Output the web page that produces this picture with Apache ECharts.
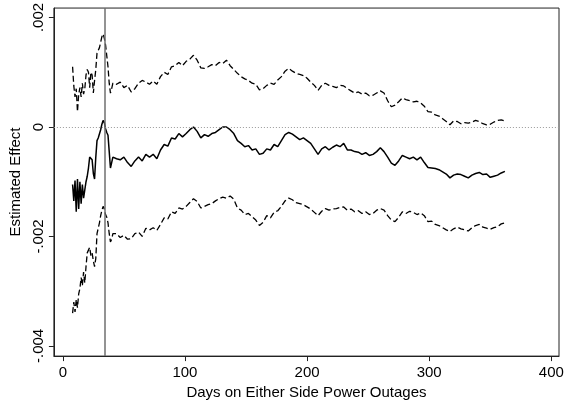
<!DOCTYPE html>
<html>
<head>
<meta charset="utf-8">
<script src="https://cdn.jsdelivr.net/npm/echarts@6/dist/echarts.min.js"></script>
<style>html,body{margin:0;padding:0;background:#fff}#c{width:568px;height:405px}</style>
</head>
<body>
<div id="c"></div>
<script>
// Days on either side of power outages
const days = [
  8,9,10,11,12,13,14,15,16,17,18,19,20,21,22,23,24,25,26,27,28,29,30,31,32,33,34,35,36,37,38,39,40,41,
  44,47,50,53,56,59,62,65,68,71,
  74,77,80,83,86,89,92,95,98,101,
  104,107,110,113,116,119,122,125,128,131,
  134,137,140,143,146,149,152,155,158,161,
  164,167,170,173,176,179,182,185,188,191,
  194,197,200,203,206,209,212,215,218,221,
  224,227,230,233,236,239,242,245,248,251,
  254,257,260,263,266,269,272,275,278,281,
  284,287,290,293,296,299,302,305,308,311,
  314,317,320,323,326,329,332,335,338,341,
  344,347,350,353,356,359,362
];
// Values in thousandths (x 0.001)
const estimate = [
  -1.05,-1.35,-0.98,-1.55,-0.95,-1.50,-1.00,-1.40,-1.05,-1.30,-1.15,-1.00,-0.90,-0.75,-0.55,-0.55,-0.60,-0.85,-0.95,-0.55,-0.25,-0.20,-0.18,-0.05,0.05,0.12,0.08,-0.03,-0.10,-0.15,-0.45,-0.75,-0.65,-0.55,
  -0.58,-0.60,-0.55,-0.65,-0.72,-0.62,-0.55,-0.62,-0.50,-0.55,
  -0.50,-0.58,-0.42,-0.32,-0.35,-0.20,-0.22,-0.12,-0.18,-0.12,
  -0.05,0.00,-0.08,-0.20,-0.14,-0.17,-0.12,-0.10,-0.05,0.00,
  0.00,-0.05,-0.12,-0.25,-0.30,-0.36,-0.34,-0.42,-0.40,-0.50,
  -0.48,-0.40,-0.42,-0.32,-0.36,-0.25,-0.14,-0.10,-0.13,-0.18,
  -0.23,-0.20,-0.25,-0.30,-0.40,-0.50,-0.40,-0.36,-0.42,-0.37,
  -0.33,-0.36,-0.30,-0.42,-0.42,-0.45,-0.46,-0.50,-0.47,-0.52,
  -0.50,-0.45,-0.38,-0.45,-0.55,-0.66,-0.70,-0.62,-0.52,-0.55,
  -0.58,-0.55,-0.60,-0.55,-0.65,-0.74,-0.75,-0.76,-0.78,-0.82,
  -0.86,-0.93,-0.88,-0.86,-0.87,-0.90,-0.93,-0.88,-0.85,-0.83,
  -0.87,-0.86,-0.92,-0.90,-0.88,-0.84,-0.81
];
const upper = [
  1.10,0.75,0.55,0.70,0.28,0.60,0.72,0.55,0.80,0.60,0.70,0.95,1.05,1.00,0.72,1.00,0.95,0.62,0.85,1.05,1.35,1.40,1.45,1.55,1.65,1.70,1.62,1.50,1.30,1.10,0.80,0.62,0.70,0.80,
  0.78,0.82,0.72,0.76,0.64,0.70,0.80,0.85,0.82,0.78,
  0.84,0.78,0.92,1.00,0.96,1.10,1.12,1.18,1.12,1.20,
  1.24,1.31,1.22,1.08,1.07,1.10,1.14,1.12,1.18,1.16,
  1.22,1.12,1.05,0.98,0.92,0.88,0.85,0.80,0.78,0.68,
  0.70,0.76,0.80,0.78,0.86,0.92,1.02,1.07,1.02,0.98,
  0.96,0.94,0.89,0.82,0.76,0.67,0.76,0.80,0.76,0.74,
  0.72,0.76,0.75,0.70,0.66,0.62,0.64,0.60,0.62,0.57,
  0.58,0.62,0.66,0.62,0.48,0.37,0.40,0.46,0.53,0.50,
  0.48,0.46,0.47,0.44,0.38,0.28,0.27,0.22,0.20,0.15,
  0.10,0.04,0.11,0.10,0.06,0.08,0.07,0.09,0.12,0.10,
  0.06,0.04,0.05,0.09,0.12,0.13,0.11
];
const lower = [
  -3.40,-3.20,-3.38,-3.15,-3.30,-3.05,-2.95,-2.75,-2.90,-2.65,-2.85,-2.55,-2.30,-2.25,-2.20,-2.35,-2.30,-2.45,-2.55,-2.40,-1.95,-1.85,-1.75,-1.62,-1.52,-1.45,-1.50,-1.60,-1.65,-1.75,-1.95,-2.10,-2.05,-1.95,
  -1.95,-2.02,-1.98,-2.05,-2.04,-1.95,-1.92,-2.00,-1.85,-1.88,
  -1.84,-1.89,-1.78,-1.66,-1.68,-1.55,-1.58,-1.48,-1.50,-1.45,
  -1.38,-1.31,-1.36,-1.48,-1.45,-1.42,-1.40,-1.35,-1.31,-1.28,
  -1.30,-1.26,-1.32,-1.48,-1.52,-1.60,-1.58,-1.64,-1.70,-1.80,
  -1.74,-1.62,-1.66,-1.56,-1.53,-1.45,-1.35,-1.30,-1.33,-1.38,
  -1.40,-1.42,-1.46,-1.50,-1.56,-1.62,-1.54,-1.49,-1.52,-1.50,
  -1.49,-1.47,-1.46,-1.52,-1.50,-1.55,-1.53,-1.58,-1.55,-1.60,
  -1.58,-1.52,-1.49,-1.52,-1.62,-1.70,-1.73,-1.65,-1.55,-1.58,
  -1.54,-1.56,-1.60,-1.57,-1.62,-1.73,-1.72,-1.78,-1.80,-1.84,
  -1.88,-1.91,-1.86,-1.83,-1.86,-1.88,-1.90,-1.84,-1.80,-1.78,
  -1.83,-1.85,-1.87,-1.84,-1.82,-1.77,-1.75
];
const xTicks = [0, 100, 200, 300, 400];
const yTicks = [-4, -2, 0, 2];           // thousandths
const yTickLabels = ['-.004', '-.002', '0', '.002'];
const outageDay = 34;

const pair = arr => days.map((d, i) => [d, arr[i]]);
const font = 'Liberation Sans, Arial, sans-serif';

const chart = echarts.init(document.getElementById('c'), null, {renderer: 'canvas'});
chart.setOption({
  animation: false,
  backgroundColor: '#fff',
  grid: {left: 49, top: 7, right: 9, bottom: 46, show: true, borderColor: '#222', borderWidth: 1, containLabel: false},
  xAxis: {
    type: 'value', min: -7.3, max: 406.3,
    name: 'Days on Either Side Power Outages', nameLocation: 'middle', nameGap: 24,
    nameTextStyle: {fontFamily: font, fontSize: 15, color: '#000'},
    axisLine: {show: true, onZero: false, lineStyle: {color: '#222', width: 1}},
    axisTick: {show: true, length: 5, customValues: xTicks, lineStyle: {color: '#222'}},
    axisLabel: {customValues: xTicks, fontFamily: font, fontSize: 15, color: '#000', margin: 9},
    splitLine: {show: false}
  },
  yAxis: {
    type: 'value', min: -4.186, max: 2.173,
    name: 'Estimated Effect', nameLocation: 'middle', nameGap: 22,
    nameTextStyle: {fontFamily: font, fontSize: 15, color: '#000'},
    axisLine: {show: true, onZero: false, lineStyle: {color: '#222', width: 1}},
    axisTick: {show: true, length: 5, customValues: yTicks, lineStyle: {color: '#222'}},
    axisLabel: {
      customValues: yTicks, rotate: 90, fontFamily: font, fontSize: 15, color: '#000', margin: 8,
      align: 'center',
      formatter: v => { const i = yTicks.indexOf(Math.round(v)); return i >= 0 ? yTickLabels[i] : ''; }
    },
    splitLine: {show: false}
  },
  series: [
    {
      type: 'line', data: pair(upper), showSymbol: false, silent: true,
      lineStyle: {color: '#000', width: 1.3, type: [6, 3]}
    },
    {
      type: 'line', data: pair(estimate), showSymbol: false, silent: true,
      lineStyle: {color: '#000', width: 1.5},
      markLine: {
        silent: true, symbol: 'none', label: {show: false},
        data: [
          {yAxis: 0, lineStyle: {color: '#999', width: 1, type: [1, 2]}},
          {xAxis: outageDay, lineStyle: {color: '#6f6f6f', width: 1.5, type: 'solid'}}
        ]
      }
    },
    {
      type: 'line', data: pair(lower), showSymbol: false, silent: true,
      lineStyle: {color: '#000', width: 1.3, type: [6, 3]}
    }
  ]
});
</script>
</body>
</html>
